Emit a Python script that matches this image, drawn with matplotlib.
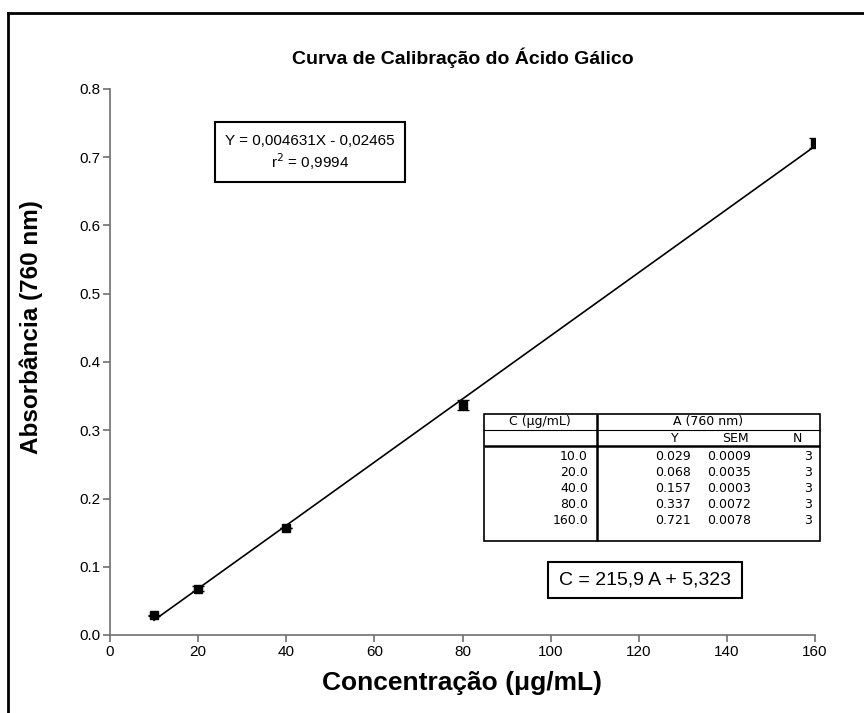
import numpy as np
import matplotlib.pyplot as plt
from matplotlib.lines import Line2D
from matplotlib.patches import Rectangle

plt.rcParams['font.family'] = ['Liberation Sans', 'DejaVu Sans']

# calibration data (gallic acid)
conc = [10.0, 20.0, 40.0, 80.0, 160.0]
absorb = [0.029, 0.068, 0.157, 0.337, 0.721]
sem = [0.0009, 0.0035, 0.0003, 0.0072, 0.0078]
n_rep = [3, 3, 3, 3, 3]

slope = 0.004631
intercept = -0.02465
r2 = 0.9994
inv_slope = 215.9
inv_intercept = 5.323

W, H = 864, 713
fig = plt.figure(figsize=(W / 100, H / 100), dpi=100)


def fx(x):
    return x / W


def fy(y):
    return 1 - y / H


ax = fig.add_axes([fx(110), fy(635), fx(815) - fx(110), fy(89) - fy(635)])

ax.errorbar(conc, absorb, yerr=sem, fmt='s', color='black', markersize=6,
            capsize=4, elinewidth=1, capthick=1, zorder=3)
xfit = np.array([conc[0], conc[-1]])
ax.plot(xfit, slope * xfit + intercept, color='black', lw=1.2, zorder=2)

ax.set_xlim(0, 160)
ax.set_ylim(0, 0.8)
ax.set_xticks(np.arange(0, 161, 20))
ax.set_yticks(np.arange(0, 0.81, 0.1))
ax.set_yticklabels([f"{v:.1f}" for v in np.arange(0, 0.81, 0.1)])
for s in ['top', 'right']:
    ax.spines[s].set_visible(False)
for s in ['left', 'bottom']:
    ax.spines[s].set_color('#707070')
    ax.spines[s].set_linewidth(1.2)
ax.tick_params(direction='out', length=5, width=1.2, color='#707070',
               labelsize=11, pad=2)

ax.set_title("Curva de Calibração do Ácido Gálico", fontsize=14,
             fontweight='bold', pad=18)
ax.set_xlabel("Concentração (μg/mL)", fontsize=19, fontweight='bold', va='center')
ax.set_ylabel("Absorbância (760 nm)", fontsize=17.5, fontweight='bold', va='center')
ax.xaxis.set_label_coords((462 - 110) / 705, (635 - 683) / 546)
ax.yaxis.set_label_coords((31 - 110) / 705, (635 - 327) / 546)

# outer frame (top and left edges)
fig.add_artist(Line2D([fx(8), 1], [fy(13), fy(13)], color='black', lw=2))
fig.add_artist(Line2D([fx(8), fx(8)], [fy(13), 0], color='black', lw=2))

# regression equation box
fig.add_artist(Rectangle((fx(215), fy(182)), fx(405) - fx(215), fy(122) - fy(182),
                         fill=False, ec='black', lw=1.5))
fig.text(fx(310), fy(141), f"Y = {slope:.6f}X - {-intercept:.5f}".replace('.', ','),
         ha='center', va='center', fontsize=11)
fig.text(fx(310), fy(162), f"r$^2$ = {r2:.4f}".replace('.', ','),
         ha='center', va='center', fontsize=11)

# inverse equation box
fig.add_artist(Rectangle((fx(548), fy(598)), fx(742) - fx(548), fy(562) - fy(598),
                         fill=False, ec='black', lw=1.5))
fig.text(fx(645), fy(580), f"C = {inv_slope:.1f} A + {inv_intercept:.3f}".replace('.', ','),
         ha='center', va='center', fontsize=14)

# data table
tl, tr, tt, tb = 484, 820, 414, 541
div = 597
fig.add_artist(Rectangle((fx(tl), fy(tb)), fx(tr) - fx(tl), fy(tt) - fy(tb),
                         fill=False, ec='black', lw=1.2))
fig.add_artist(Line2D([fx(div), fx(div)], [fy(tt), fy(tb)], color='black', lw=1.8,
                      solid_capstyle='butt'))
fig.add_artist(Line2D([fx(tl), fx(tr)], [fy(430), fy(430)], color='black', lw=0.8))
fig.add_artist(Line2D([fx(tl), fx(tr)], [fy(446), fy(446)], color='black', lw=1.8,
                      solid_capstyle='butt'))

tfs = 9
tfam = ['DejaVu Sans']
fig.text(fx(540), fy(422), "C (μg/mL)", ha='center', va='center', fontsize=tfs, family=tfam)
fig.text(fx(708), fy(422), "A (760 nm)", ha='center', va='center', fontsize=tfs, family=tfam)
fig.text(fx(675), fy(438), "Y", ha='center', va='center', fontsize=tfs, family=tfam)
fig.text(fx(735), fy(438), "SEM", ha='center', va='center', fontsize=tfs, family=tfam)
fig.text(fx(797), fy(438), "N", ha='center', va='center', fontsize=tfs, family=tfam)
for i in range(len(conc)):
    yy = 457 + i * 15.8
    fig.text(fx(588), fy(yy), f"{conc[i]:.1f}", ha='right', va='center', fontsize=tfs, family=tfam)
    fig.text(fx(691), fy(yy), f"{absorb[i]:.3f}", ha='right', va='center', fontsize=tfs, family=tfam)
    fig.text(fx(751), fy(yy), f"{sem[i]:.4f}", ha='right', va='center', fontsize=tfs, family=tfam)
    fig.text(fx(812), fy(yy), f"{n_rep[i]}", ha='right', va='center', fontsize=tfs, family=tfam)

fig.savefig("out.png", dpi=100)
